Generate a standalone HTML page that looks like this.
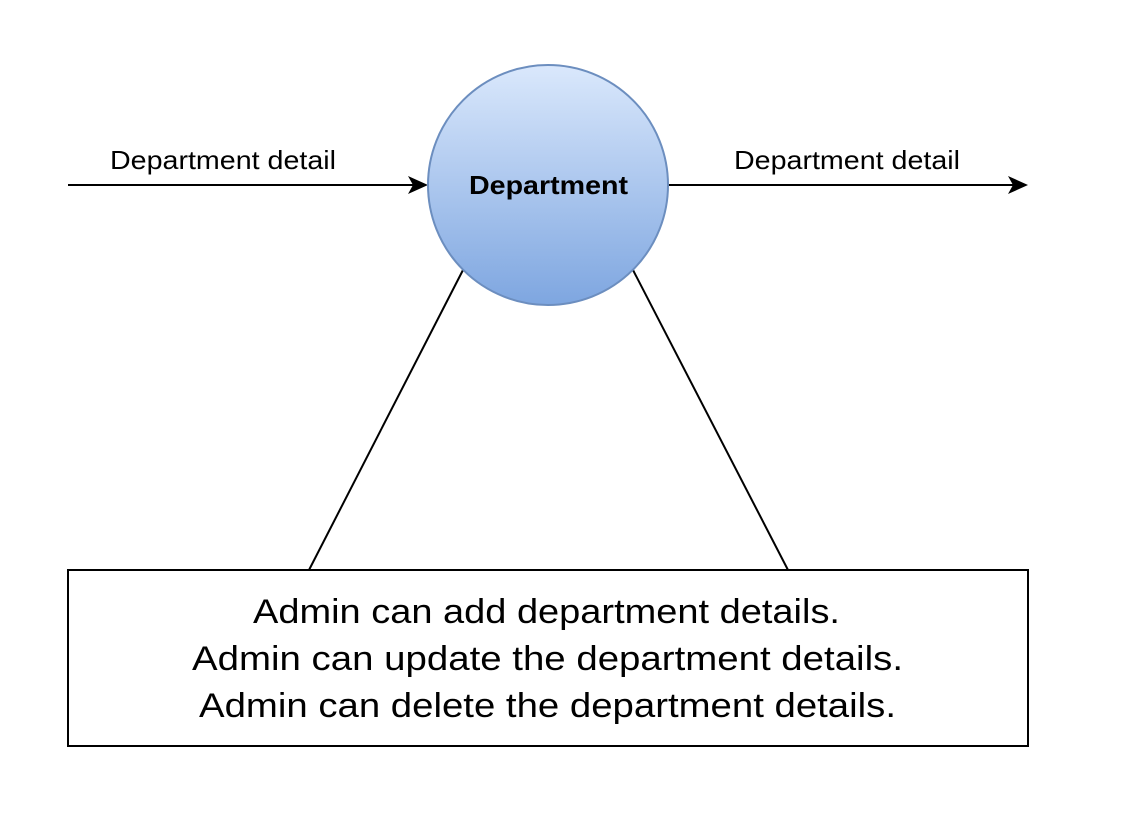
<!DOCTYPE html>
<html><head><meta charset="utf-8"><style>
html,body{margin:0;padding:0;background:#fff;}
</style></head><body>
<svg width="1132" height="838" viewBox="0 0 1132 838" xmlns="http://www.w3.org/2000/svg" style="display:block">
<defs>
<linearGradient id="g" x1="0" y1="0" x2="0" y2="1">
<stop offset="0" stop-color="#dae8fc"/><stop offset="1" stop-color="#7ea6e0"/>
</linearGradient>
</defs>
<rect width="1132" height="838" fill="#fff"/>
<line x1="68" y1="185" x2="414" y2="185" stroke="#000" stroke-width="2"/>
<polygon points="428,185 408,176 413,185 408,194" fill="#000"/>
<line x1="668" y1="185" x2="1014" y2="185" stroke="#000" stroke-width="2"/>
<polygon points="1028,185 1008,176 1013,185 1008,194" fill="#000"/>
<line x1="463" y1="270" x2="309" y2="570" stroke="#000" stroke-width="2"/>
<line x1="633" y1="270" x2="788" y2="570" stroke="#000" stroke-width="2"/>
<circle cx="548" cy="185" r="120" fill="url(#g)" stroke="#6c8ebf" stroke-width="2"/>
<text x="469" y="194" font-family="Liberation Sans, sans-serif" font-size="26" font-weight="bold" textLength="159" lengthAdjust="spacingAndGlyphs">Department</text>
<text x="110" y="169" font-family="Liberation Sans, sans-serif" font-size="26" textLength="226" lengthAdjust="spacingAndGlyphs">Department detail</text>
<text x="734" y="169" font-family="Liberation Sans, sans-serif" font-size="26" textLength="226" lengthAdjust="spacingAndGlyphs">Department detail</text>
<rect x="68" y="570" width="960" height="176" fill="#fff" stroke="#000" stroke-width="2"/>
<g font-family="Liberation Sans, sans-serif" font-size="34">
<text x="253" y="623" textLength="587" lengthAdjust="spacingAndGlyphs">Admin can add department details.</text>
<text x="192" y="670" textLength="711" lengthAdjust="spacingAndGlyphs">Admin can update the department details.</text>
<text x="199" y="717" textLength="697" lengthAdjust="spacingAndGlyphs">Admin can delete the department details.</text>
</g>
</svg>
</body></html>
